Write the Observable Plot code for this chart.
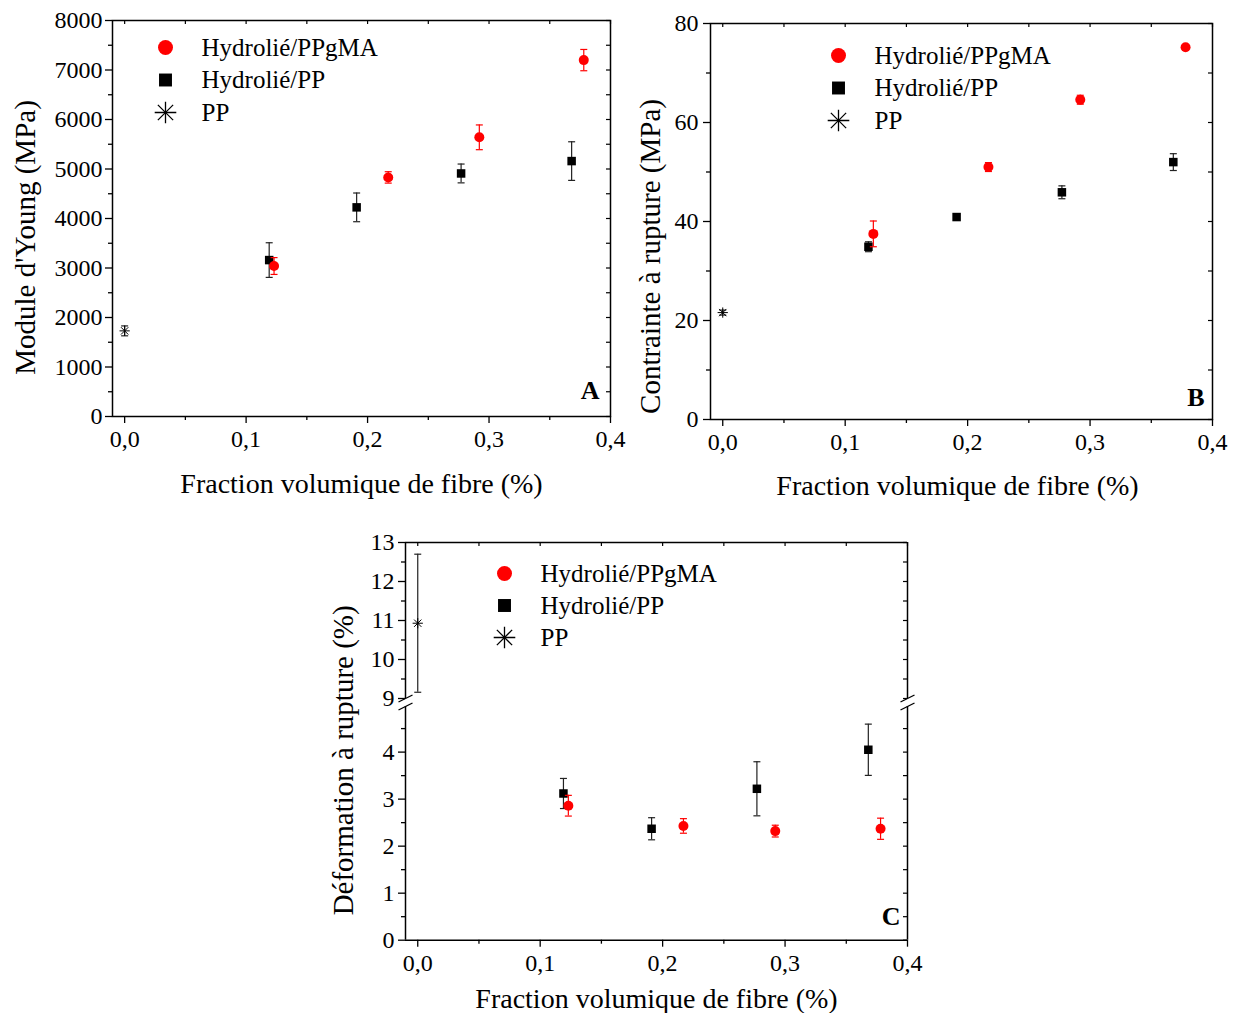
<!DOCTYPE html>
<html><head><meta charset="utf-8">
<script src="https://cdn.jsdelivr.net/npm/d3@7"></script>
<script src="https://cdn.jsdelivr.net/npm/@observablehq/plot@0.6"></script>
<style>
html,body{margin:0;padding:0;background:#fff;overflow:hidden;}
#root{position:relative;width:1241px;height:1013px;background:#fff;}
#root svg{position:absolute;overflow:visible;background:transparent;}
</style></head><body><div id="root"></div>
<script>
// ---------- data ----------
const seriesNames = ["Hydrolié/PPgMA", "Hydrolié/PP", "PP"];
const xPPgMA = [0.123, 0.217, 0.292, 0.378];
const xPPh = [0.119, 0.191, 0.277, 0.368];
const xPP = [0];

const youngPPgMA = [3040, 4830, 5640, 7200];
const youngPPgMAErr = [170, 115, 250, 215];
const youngPPh = [3160, 4225, 4910, 5160];
const youngPPhErr = [350, 290, 190, 390];
const youngPP = [1730];
const youngPPErr = [100];

const strengthPPgMA = [37.5, 51.0, 64.6, 75.2];
const strengthPPgMAErr = [2.6, 0.9, 0.9, 0.5];
const strengthPPh = [34.9, 40.9, 45.9, 52.0];
const strengthPPhErr = [1.0, 0.4, 1.3, 1.7];
const strengthPP = [21.6];
const strengthPPErr = [0.5];

const strainPPgMA = [2.86, 2.43, 2.32, 2.37];
const strainPPgMAErr = [0.22, 0.155, 0.125, 0.225];
const strainPPh = [3.12, 2.37, 3.22, 4.05];
const strainPPhErr = [0.32, 0.235, 0.575, 0.545];
const strainPP = [10.93];
const strainPPErr = [1.77];

const xTitle = "Fraction volumique de fibre (%)";
const yTitleA = "Module d'Young (MPa)";
const yTitleB = "Contrainte à rupture (MPa)";
const yTitleC = "Déformation à rupture (%)";

const xTicks = [0, 0.1, 0.2, 0.3, 0.4];
const xMinor = [0.05, 0.15, 0.25, 0.35];
const yTicksA = [0, 1000, 2000, 3000, 4000, 5000, 6000, 7000, 8000];
const yMinorA = [500, 1500, 2500, 3500, 4500, 5500, 6500, 7500];
const yTicksB = [0, 20, 40, 60, 80];
const yMinorB = [10, 30, 50, 70];
const yTicksCLow = [0, 1, 2, 3, 4];
const yMinorCLow = [0.5, 1.5, 2.5, 3.5, 4.5];
const yTicksCHigh = [9, 10, 11, 12, 13];
const yMinorCHigh = [9.5, 10.5, 11.5, 12.5];

const xDomain = [-0.01, 0.4];

// ---------- helpers ----------
const rows = (xs, ys, es) => xs.map((x, i) => ({x, y: ys[i], e: es[i]}));
const fmtX = d => d3.format(".1f")(d).replace(".", ",");
const capSym = {draw(c) { c.moveTo(-3.5, 0); c.lineTo(3.5, 0); }};
const breakSym = {draw(c) { c.moveTo(-7, 3.5); c.lineTo(7, -3.5); }};
const RED = "#ff0000";
const FONT = "Liberation Serif, Times New Roman, serif";

function seriesMarks(r1, r2, r3) {
  const m = [];
  const err = (data, color) => [
    Plot.ruleX(data, {x: "x", y1: d => d.y - d.e, y2: d => d.y + d.e, stroke: color, strokeWidth: 1.2}),
    Plot.dot(data, {x: "x", y: d => d.y - d.e, symbol: capSym, stroke: color, strokeWidth: 1.2}),
    Plot.dot(data, {x: "x", y: d => d.y + d.e, symbol: capSym, stroke: color, strokeWidth: 1.2})
  ];
  if (r3) m.push(...err(r3, "#222"),
    Plot.dot(r3, {x: "x", y: "y", symbol: "plus", r: 3.4, stroke: "#000", strokeWidth: 1}),
    Plot.dot(r3, {x: "x", y: "y", symbol: "times", r: 3.4, stroke: "#000", strokeWidth: 1}));
  if (r2) m.push(...err(r2, "#222"),
    Plot.dot(r2, {x: "x", y: "y", symbol: "square", r: 4.8, fill: "#000"}));
  if (r1) m.push(...err(r1, RED),
    Plot.dot(r1, {x: "x", y: "y", symbol: "circle", r: 5, fill: RED}));
  return m;
}

function legendMarks(dxSym, dxText, dy0, step) {
  const m = [];
  const ys = [dy0, dy0 + step, dy0 + 2 * step];
  m.push(Plot.dot([seriesNames[0]], {frameAnchor: "top-left", dx: dxSym, dy: ys[0], symbol: "circle", r: 7.5, fill: RED}));
  m.push(Plot.dot([seriesNames[1]], {frameAnchor: "top-left", dx: dxSym, dy: ys[1], symbol: "square", r: 7.3, fill: "#000"}));
  m.push(Plot.dot([seriesNames[2]], {frameAnchor: "top-left", dx: dxSym, dy: ys[2], symbol: "plus", r: 7, stroke: "#000", strokeWidth: 1.3}));
  m.push(Plot.dot([seriesNames[2]], {frameAnchor: "top-left", dx: dxSym, dy: ys[2], symbol: "times", r: 7, stroke: "#000", strokeWidth: 1.3}));
  seriesNames.forEach((n, i) => m.push(Plot.text([n], {text: d => d, frameAnchor: "top-left", dx: dxText, dy: ys[i], textAnchor: "start", lineAnchor: "middle", fontSize: 25})));
  return m;
}

function yAxes(yT, yM, innerW, pad) {
  return [
    Plot.axisY({ticks: yT, tickSize: 7, tickPadding: pad, tickFormat: d => String(d), label: null, fontSize: 24, strokeWidth: 1.3}),
    Plot.axisY({ticks: yM, tickSize: 4, tickFormat: () => "", label: null, strokeWidth: 1.3}),
    Plot.tickY(yT.concat(yM), {y: d => d, insetLeft: innerW - 4, strokeWidth: 1.2})
  ];
}
function xAxes(pad) {
  return [
    Plot.axisX({ticks: xTicks, tickSize: 7, tickPadding: pad, tickFormat: fmtX, label: null, fontSize: 24, strokeWidth: 1.3}),
    Plot.axisX({ticks: xMinor, tickSize: 4, tickFormat: () => "", label: null, strokeWidth: 1.3})
  ];
}
function topTicks(innerH) {
  return Plot.tickX(xTicks.concat(xMinor), {x: d => d, insetBottom: innerH - 4, strokeWidth: 1.2});
}
function yTitle(t, dx, dy) {
  return Plot.text([t], {text: d => d, frameAnchor: "left", dx, dy, rotate: -90, textAnchor: "middle", lineAnchor: "middle", fontSize: 29});
}
function xTitleMark(dx, dy) {
  return Plot.text([xTitle], {text: d => d, frameAnchor: "bottom", dx, dy, textAnchor: "middle", lineAnchor: "middle", fontSize: 28});
}

function place(svg, left, top) {
  svg.style.left = left + "px";
  svg.style.top = top + "px";
  document.getElementById("root").appendChild(svg);
}

const baseStyle = {fontFamily: FONT, fontSize: "24px", background: "transparent", overflow: "visible", color: "#000"};

// ---------- Panel A ----------
{
  const W = 620, H = 510, ml = 112, mr = 10, mt = 20, mb = 94;
  const iw = W - ml - mr, ih = H - mt - mb;
  const svg = Plot.plot({
    width: W, height: H, marginLeft: ml, marginRight: mr, marginTop: mt, marginBottom: mb,
    x: {domain: xDomain}, y: {domain: [0, 8000]}, style: baseStyle,
    marks: [
      ...yAxes(yTicksA, yMinorA, iw, 3), ...xAxes(6), topTicks(ih),
      Plot.frame({stroke: "#000", strokeWidth: 1.5}),
      ...seriesMarks(rows(xPPgMA, youngPPgMA, youngPPgMAErr), rows(xPPh, youngPPh, youngPPhErr), rows(xPP, youngPP, youngPPErr)),
      ...legendMarks(53, 89, 27, 32.5),
      Plot.text(["A"], {text: d => d, frameAnchor: "bottom-right", dx: -11, dy: -26, textAnchor: "end", lineAnchor: "middle", fontSize: 26, fontWeight: "bold"}),
      xTitleMark(0, 68),
      yTitle(yTitleA, -87, 19)
    ]
  });
  place(svg, 0, 0);
}

// ---------- Panel B ----------
{
  const W = 621, H = 510, ml = 90, mr = 29, mt = 23, mb = 91;
  const iw = W - ml - mr, ih = H - mt - mb;
  const svg = Plot.plot({
    width: W, height: H, marginLeft: ml, marginRight: mr, marginTop: mt, marginBottom: mb,
    x: {domain: xDomain}, y: {domain: [0, 80]}, style: baseStyle,
    marks: [
      ...yAxes(yTicksB, yMinorB, iw, 5), ...xAxes(6), topTicks(ih),
      Plot.frame({stroke: "#000", strokeWidth: 1.5}),
      ...seriesMarks(rows(xPPgMA, strengthPPgMA, strengthPPgMAErr), rows(xPPh, strengthPPh, strengthPPhErr), rows(xPP, strengthPP, strengthPPErr)),
      ...legendMarks(128, 164, 32, 32.5),
      Plot.text(["B"], {text: d => d, frameAnchor: "bottom-right", dx: -8, dy: -22, textAnchor: "end", lineAnchor: "middle", fontSize: 26, fontWeight: "bold"}),
      xTitleMark(-4, 67),
      yTitle(yTitleB, -60, 35)
    ]
  });
  place(svg, 620, 0);
}

// ---------- Panel C (broken axis) ----------
{
  const W = 600, ml = 85, mr = 13;
  const iw = W - ml - mr;
  // upper part: 9..13
  const Hu = 182, mtu = 22, mbu = 4;
  const ihu = Hu - mtu - mbu;
  const upper = Plot.plot({
    width: W, height: Hu, marginLeft: ml, marginRight: mr, marginTop: mtu, marginBottom: mbu,
    x: {domain: xDomain, axis: null}, y: {domain: [9, 13]}, style: baseStyle,
    marks: [
      ...yAxes(yTicksCHigh, yMinorCHigh, iw, 4), topTicks(ihu),
      Plot.ruleX(xDomain, {stroke: "#000", strokeWidth: 1.5}),
      Plot.ruleY([13], {stroke: "#000", strokeWidth: 1.5}),
      Plot.dot([0], {frameAnchor: "bottom-left", symbol: breakSym, stroke: "#000", strokeWidth: 1.3}),
      Plot.dot([0], {frameAnchor: "bottom-right", symbol: breakSym, stroke: "#000", strokeWidth: 1.3}),
      ...seriesMarks(null, null, rows(xPP, strainPP, strainPPErr)),
      ...legendMarks(99, 135, 31, 32)
    ]
  });
  place(upper, 320, 520);
  // lower part: 0..~5
  const Hl = 310, mtl = 6, mbl = 70.3;
  const lower = Plot.plot({
    width: W, height: Hl, marginLeft: ml, marginRight: mr, marginTop: mtl, marginBottom: mbl,
    x: {domain: xDomain}, y: {domain: [0, 4.97]}, style: baseStyle,
    marks: [
      ...yAxes(yTicksCLow, yMinorCLow, iw, 4), ...xAxes(7),
      Plot.ruleX(xDomain, {stroke: "#000", strokeWidth: 1.5}),
      Plot.ruleY([0], {stroke: "#000", strokeWidth: 1.5}),
      Plot.dot([0], {frameAnchor: "top-left", symbol: breakSym, stroke: "#000", strokeWidth: 1.3}),
      Plot.dot([0], {frameAnchor: "top-right", symbol: breakSym, stroke: "#000", strokeWidth: 1.3}),
      ...seriesMarks(rows(xPPgMA, strainPPgMA, strainPPgMAErr), rows(xPPh, strainPPh, strainPPhErr), null),
      Plot.text(["C"], {text: d => d, frameAnchor: "bottom-right", dx: -7, dy: -24, textAnchor: "end", lineAnchor: "middle", fontSize: 26, fontWeight: "bold"}),
      xTitleMark(0, 59),
      yTitle(yTitleC, -62, -63)
    ]
  });
  place(lower, 320, 700);
}
</script></body></html>
